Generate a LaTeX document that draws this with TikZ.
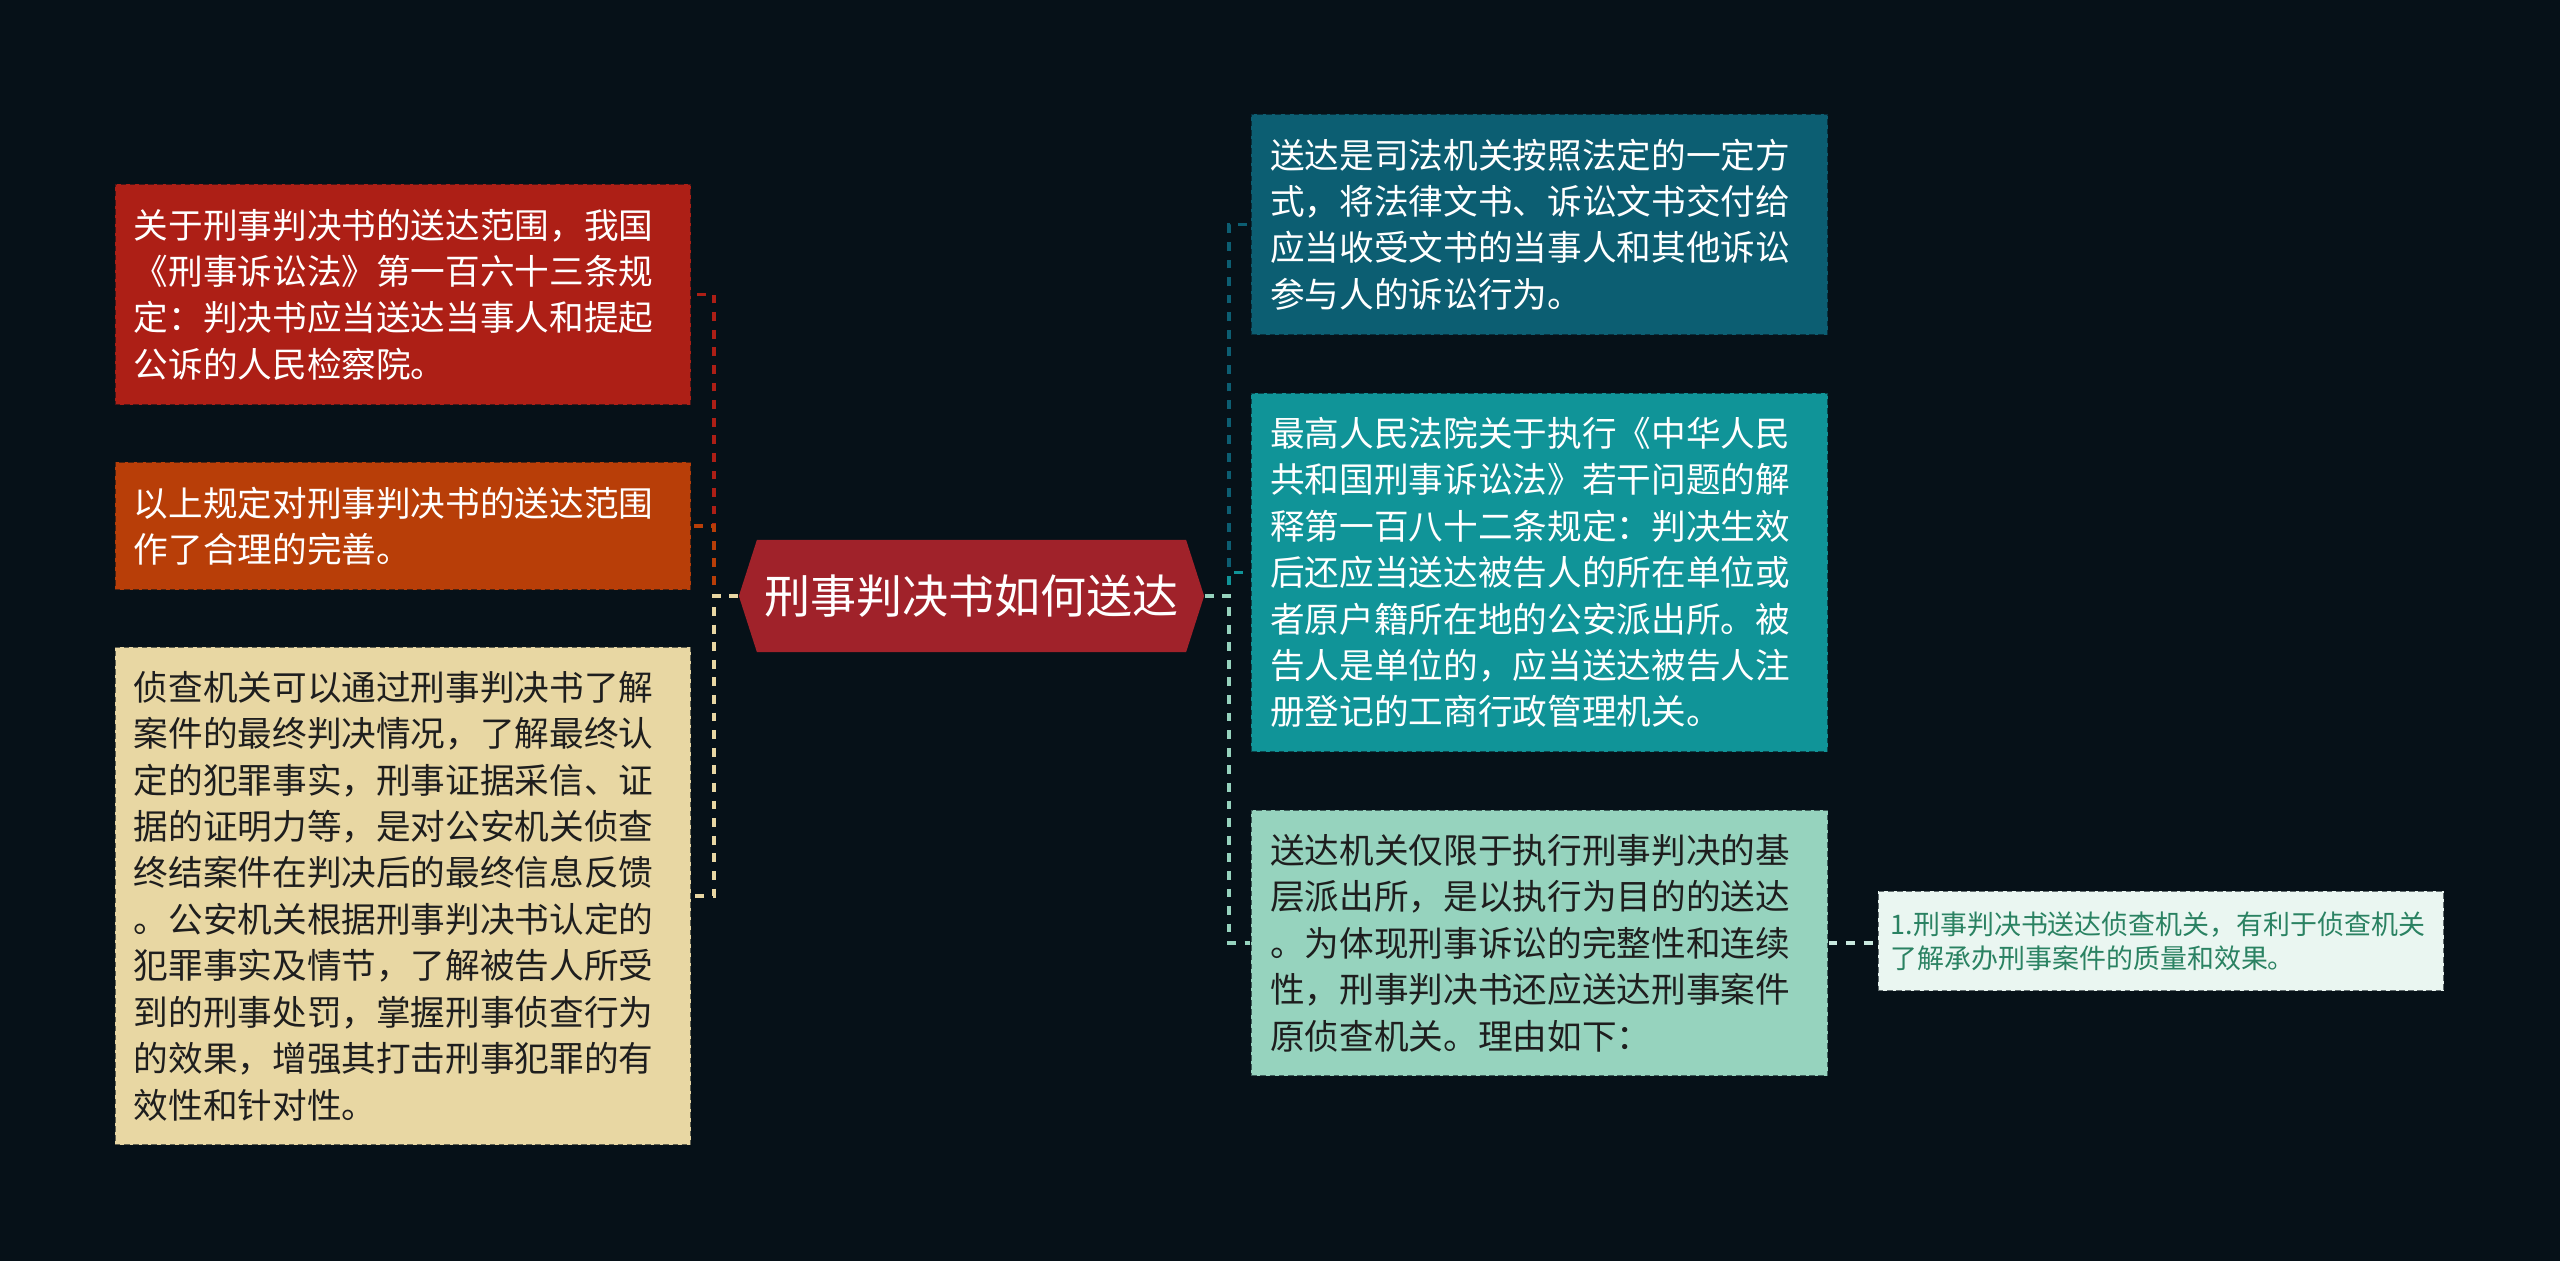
\documentclass[tikz,border=0pt]{standalone}
\usepackage{fontspec}
\setmainfont{Noto Sans CJK SC}

\definecolor{bgdark}{RGB}{6,17,24}
\definecolor{rootred}{RGB}{160,34,42}
\definecolor{lred}{RGB}{173,31,22}
\definecolor{lorange}{RGB}{184,62,8}
\definecolor{lbeige}{RGB}{232,215,163}
\definecolor{rdark}{RGB}{12,94,114}
\definecolor{rteal}{RGB}{16,148,152}
\definecolor{rmint}{RGB}{150,211,190}
\definecolor{spale}{RGB}{234,246,241}
\definecolor{sgreen}{RGB}{42,130,98}
\definecolor{sline}{RGB}{200,232,222}
\definecolor{darktext}{RGB}{30,30,30}

\tikzset{
  leaf/.style={rectangle, align=left, inner xsep=0.19cm, inner ysep=0pt,
    text width=5.38cm, draw=bgdark, draw opacity=0.6, line width=0.5pt,
    dash pattern=on 1.6pt off 1pt,
    font=\fontsize{9.85pt}{13.2pt}\selectfont},
  subleaf/.style={leaf, inner xsep=0.13cm, text width=5.4cm,
    fill=spale, text=sgreen, font=\fontsize{7.66pt}{9.7pt}\selectfont},
  rootnode/.style={rectangle, minimum width=4.65cm, minimum height=1.12cm,
    inner sep=0pt, fill=bgdark, text=white,
    font=\fontsize{13.1pt}{15pt}\selectfont,
    path picture={\fill[rootred] (path picture bounding box.west)
      -- ([xshift=0.18cm]path picture bounding box.north west)
      -- ([xshift=-0.18cm]path picture bounding box.north east)
      -- (path picture bounding box.east)
      -- ([xshift=-0.18cm]path picture bounding box.south east)
      -- ([xshift=0.18cm]path picture bounding box.south west) -- cycle;}},
  link/.style={line width=1.1pt, dash pattern=on 2.5pt off 2.5pt},
}

\begin{document}
\begin{tikzpicture}[x=0.01cm, y=-0.01cm]
    \fill[bgdark] (0,0) rectangle (2560,1261);

    \node[rootnode] (root) at (971.5,596) {刑事判决书如何送达};

    % left side
    \node[leaf, fill=lred, text=white, minimum height=2.21cm] (l1) at (403,294.5)
      {关于刑事判决书的送达范围，我国\\《刑事诉讼法》第一百六十三条规\\定：判决书应当送达当事人和提起\\公诉的人民检察院。};
    \node[leaf, fill=lorange, text=white, minimum height=1.28cm] (l2) at (403,526)
      {以上规定对刑事判决书的送达范围\\作了合理的完善。};
    \node[leaf, fill=lbeige, text=darktext, minimum height=4.98cm] (l3) at (403,896)
      {侦查机关可以通过刑事判决书了解\\案件的最终判决情况，了解最终认\\定的犯罪事实，刑事证据采信、证\\据的证明力等，是对公安机关侦查\\终结案件在判决后的最终信息反馈\\。公安机关根据刑事判决书认定的\\犯罪事实及情节，了解被告人所受\\到的刑事处罚，掌握刑事侦查行为\\的效果，增强其打击刑事犯罪的有\\效性和针对性。};

    % right side
    \node[leaf, fill=rdark, text=white, minimum height=2.21cm] (r1) at (1539.5,224.5)
      {送达是司法机关按照法定的一定方\\式，将法律文书、诉讼文书交付给\\应当收受文书的当事人和其他诉讼\\参与人的诉讼行为。};
    \node[leaf, fill=rteal, text=white, minimum height=3.59cm] (r2) at (1539.5,572.5)
      {最高人民法院关于执行《中华人民\\共和国刑事诉讼法》若干问题的解\\释第一百八十二条规定：判决生效\\后还应当送达被告人的所在单位或\\者原户籍所在地的公安派出所。被\\告人是单位的，应当送达被告人注\\册登记的工商行政管理机关。};
    \node[leaf, fill=rmint, text=darktext, minimum height=2.66cm] (r3) at (1539.5,943)
      {送达机关仅限于执行刑事判决的基\\层派出所，是以执行为目的的送达\\。为体现刑事诉讼的完整性和连续\\性，刑事判决书还应送达刑事案件\\原侦查机关。理由如下：};
    \node[subleaf, minimum height=0.99cm] (s1) at (2161,941)
      {1.刑事判决书送达侦查机关，有利于侦查机关\\了解承办刑事案件的质量和效果。};

    % connectors
    \draw[link, lred] (root.west) -- ++(-24,0) |- (l1.east);
    \draw[link, lorange] (root.west) -- ++(-24,0) |- (l2.east);
    \draw[link, lbeige] (root.west) -- ++(-24,0) |- (l3.east);
    \draw[link, rdark] (root.east) -- ++(24,0) |- (r1.west);
    \draw[link, rteal] (root.east) -- ++(24,0) |- (r2.west);
    \draw[link, rmint] (root.east) -- ++(24,0) |- (r3.west);
    \draw[link, sline] (r3.east) -- (r3.east -| s1.west);
\end{tikzpicture}
\end{document}
